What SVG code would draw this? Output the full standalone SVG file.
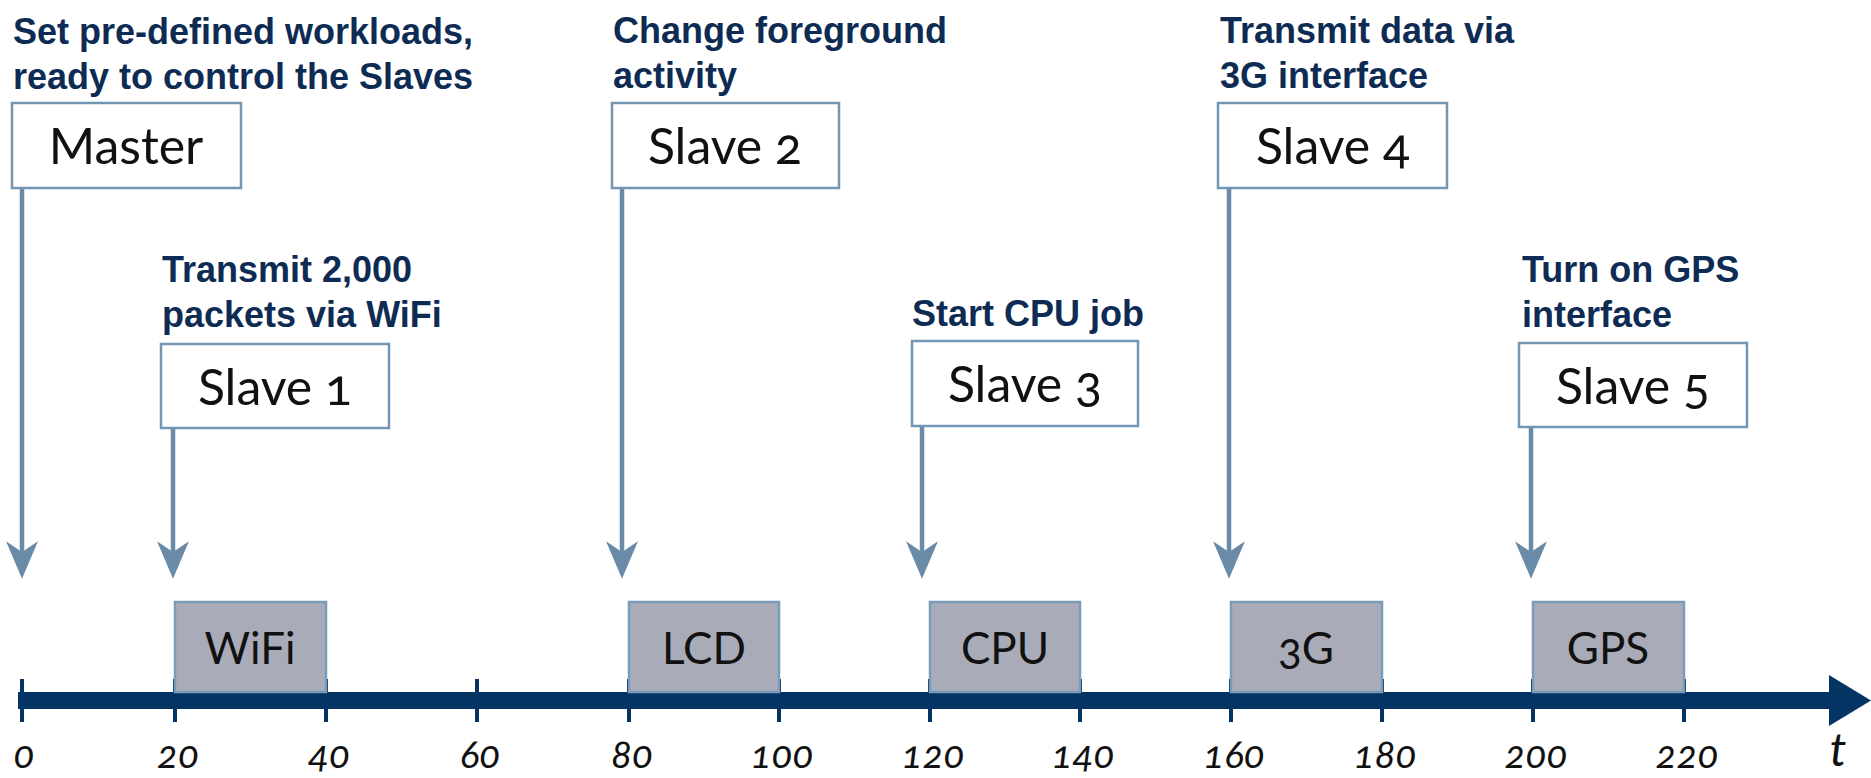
<svg xmlns="http://www.w3.org/2000/svg" width="1871" height="778" viewBox="0 0 1871 778">
  <style>
    .note { font-family: "Liberation Sans", Arial, sans-serif; font-weight: bold; font-size: 36px; fill: #0e2c53; }
    .agent { fill: #ffffff; stroke: #7396b4; stroke-width: 2.5; }
    .agent-label { font-family: Lato, "Open Sans", sans-serif; font-size: 50px; fill: #111111; text-anchor: middle; font-variant-numeric: oldstyle-nums; }
    .busy { fill: #a9acb8; stroke: #7b9cb9; stroke-width: 2.5; }
    .busy-label { font-family: Lato, "Open Sans", sans-serif; font-size: 44px; fill: #111111; text-anchor: middle; font-variant-numeric: oldstyle-nums; }
    .link { stroke: #6a8ba8; stroke-width: 4.5; fill: none; marker-end: url(#head); }
    .axis { fill: #033463; }
    .tick-label { font-family: Lato, "Open Sans", sans-serif; font-style: italic; font-size: 39px; fill: #111111; text-anchor: middle; font-variant-numeric: oldstyle-nums; }
  </style>
  <defs>
    <marker id="head" markerUnits="userSpaceOnUse" markerWidth="40" markerHeight="40" refX="8" refY="0" viewBox="0 -14 30 28" orient="auto">
      <path d="M0,-12 L28,0 L0,12 L8,0 Z" fill="#6a8ba8"/>
    </marker>
  </defs>

  <rect width="1871" height="778" fill="#ffffff"/>

  <!-- time axis -->
  <g id="axis">
    <rect class="axis" x="18" y="692" width="1813" height="17"/>
    <polygon class="axis" points="1829,675 1871,700.5 1829,726"/>
    <g class="axis">
      <rect x="20" y="679" width="4" height="43"/>
      <rect x="173" y="679" width="4" height="43"/>
      <rect x="324" y="679" width="4" height="43"/>
      <rect x="475" y="679" width="4" height="43"/>
      <rect x="627" y="679" width="4" height="43"/>
      <rect x="777" y="679" width="4" height="43"/>
      <rect x="928" y="679" width="4" height="43"/>
      <rect x="1078" y="679" width="4" height="43"/>
      <rect x="1229" y="679" width="4" height="43"/>
      <rect x="1380" y="679" width="4" height="43"/>
      <rect x="1531" y="679" width="4" height="43"/>
      <rect x="1682" y="679" width="4" height="43"/>
    </g>
    <g class="tick-label">
      <text x="24" y="768">0</text>
      <text x="178" y="768">20</text>
      <text x="329" y="768">40</text>
      <text x="480" y="768">60</text>
      <text x="632" y="768">80</text>
      <text x="782" y="768">100</text>
      <text x="933" y="768">120</text>
      <text x="1083" y="768">140</text>
      <text x="1234" y="768">160</text>
      <text x="1385" y="768">180</text>
      <text x="1536" y="768">200</text>
      <text x="1687" y="768">220</text>
    </g>
    <text x="1838" y="766" font-family="Lato, 'Open Sans', sans-serif" font-style="italic" font-size="47" fill="#111111" text-anchor="middle">t</text>
  </g>

  <!-- activity intervals -->
  <g id="wifi">
    <rect class="busy" x="175" y="602" width="151" height="90"/>
    <text class="busy-label" x="250" y="664">WiFi</text>
  </g>
  <g id="lcd">
    <rect class="busy" x="629" y="602" width="150" height="90"/>
    <text class="busy-label" x="704" y="664">LCD</text>
  </g>
  <g id="cpu">
    <rect class="busy" x="930" y="602" width="150" height="90"/>
    <text class="busy-label" x="1005" y="664">CPU</text>
  </g>
  <g id="g3">
    <rect class="busy" x="1231" y="602" width="151" height="90"/>
    <text class="busy-label" x="1306" y="664">3G</text>
  </g>
  <g id="gps">
    <rect class="busy" x="1533" y="602" width="151" height="90"/>
    <text class="busy-label" x="1608" y="664">GPS</text>
  </g>

  <!-- controllers -->
  <g id="master">
    <text class="note" x="13" y="44">Set pre-defined workloads,</text>
    <text class="note" x="13" y="89">ready to control the Slaves</text>
    <rect class="agent" x="12" y="103" width="229" height="85"/>
    <text class="agent-label" x="126" y="164">Master</text>
  </g>
  <g id="slave1">
    <text class="note" x="162" y="282">Transmit 2,000</text>
    <text class="note" x="162" y="327">packets via WiFi</text>
    <rect class="agent" x="161" y="344" width="228" height="84"/>
    <text class="agent-label" x="275" y="405">Slave 1</text>
  </g>
  <g id="slave2">
    <text class="note" x="613" y="43">Change foreground</text>
    <text class="note" x="613" y="88">activity</text>
    <rect class="agent" x="612" y="103" width="227" height="85"/>
    <text class="agent-label" x="725" y="164">Slave 2</text>
  </g>
  <g id="slave3">
    <text class="note" x="912" y="326">Start CPU job</text>
    <rect class="agent" x="912" y="341" width="226" height="85"/>
    <text class="agent-label" x="1025" y="402">Slave 3</text>
  </g>
  <g id="slave4">
    <text class="note" x="1220" y="43">Transmit data via</text>
    <text class="note" x="1220" y="88">3G interface</text>
    <rect class="agent" x="1218" y="103" width="229" height="85"/>
    <text class="agent-label" x="1333" y="164">Slave 4</text>
  </g>
  <g id="slave5">
    <text class="note" x="1522" y="282">Turn on GPS</text>
    <text class="note" x="1522" y="327">interface</text>
    <rect class="agent" x="1519" y="343" width="228" height="84"/>
    <text class="agent-label" x="1633" y="404">Slave 5</text>
  </g>

  <!-- commands sent to the time axis -->
  <g id="connectors">
    <line class="link" x1="22" y1="189" x2="22" y2="552"/>
    <line class="link" x1="173" y1="429" x2="173" y2="552"/>
    <line class="link" x1="622" y1="189" x2="622" y2="552"/>
    <line class="link" x1="922" y1="427" x2="922" y2="552"/>
    <line class="link" x1="1229" y1="189" x2="1229" y2="552"/>
    <line class="link" x1="1531" y1="428" x2="1531" y2="552"/>
  </g>
</svg>
